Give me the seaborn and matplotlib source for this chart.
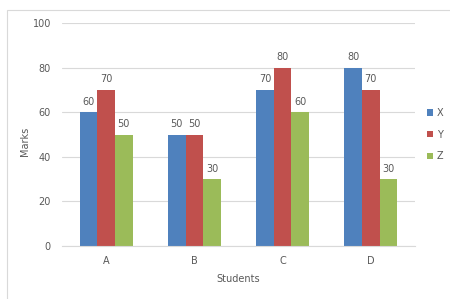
import pandas as pd
import matplotlib.pyplot as plt
import seaborn as sns

# Data
students = ["A", "B", "C", "D"]
x_marks = [60, 50, 70, 80]
y_marks = [70, 50, 80, 70]
z_marks = [50, 30, 60, 30]
series = ["X", "Y", "Z"]
colors = ["#4F81BD", "#C0504D", "#9BBB59"]

df = pd.DataFrame({
    "Students": students * 3,
    "Marks": x_marks + y_marks + z_marks,
    "Series": [s for s in series for _ in students],
})

sns.set_style("white")
plt.rcParams["font.family"] = ["DejaVu Sans"]
text_col = "#595959"

fig = plt.figure(figsize=(4.5, 2.99), dpi=100)
ax = fig.add_axes([0.138, 0.177, 0.784, 0.746])

sns.barplot(data=df, x="Students", y="Marks", hue="Series", palette=colors,
            width=0.6, gap=0, ax=ax, legend=True, saturation=1, linewidth=0)

for cont in ax.containers:
    ax.bar_label(cont, fontsize=7, color=text_col, padding=4)

ax.set_ylim(0, 100)
ax.set_xlim(-0.5, 3.5)
ax.set_yticks(range(0, 101, 20))
ax.yaxis.grid(True, color="#D9D9D9", linewidth=0.8)
ax.set_axisbelow(True)
for sp in ["top", "right", "left"]:
    ax.spines[sp].set_visible(False)
ax.spines["bottom"].set_color("#D9D9D9")
ax.tick_params(axis="both", length=0, labelsize=7, colors=text_col)
ax.tick_params(axis="y", pad=8)
ax.tick_params(axis="x", pad=7)
ax.set_xlabel("Students", fontsize=7, color=text_col, labelpad=6)
ax.set_ylabel("Marks", fontsize=7, color=text_col)
ax.yaxis.set_label_coords(-0.09, 0.47)

leg = ax.legend(loc="center left", bbox_to_anchor=(1.01, 0.5), frameon=False,
                fontsize=7, handlelength=0.6, handleheight=0.6,
                handletextpad=0.4, labelspacing=1.2)
for t in leg.get_texts():
    t.set_color(text_col)

# faint outer chart border
fig.patches.append(plt.Rectangle((0.016, -0.02), 1.0, 0.985, transform=fig.transFigure,
                                 fill=False, edgecolor="#D9D9D9", linewidth=0.8))

fig.savefig("out.png", dpi=100)
